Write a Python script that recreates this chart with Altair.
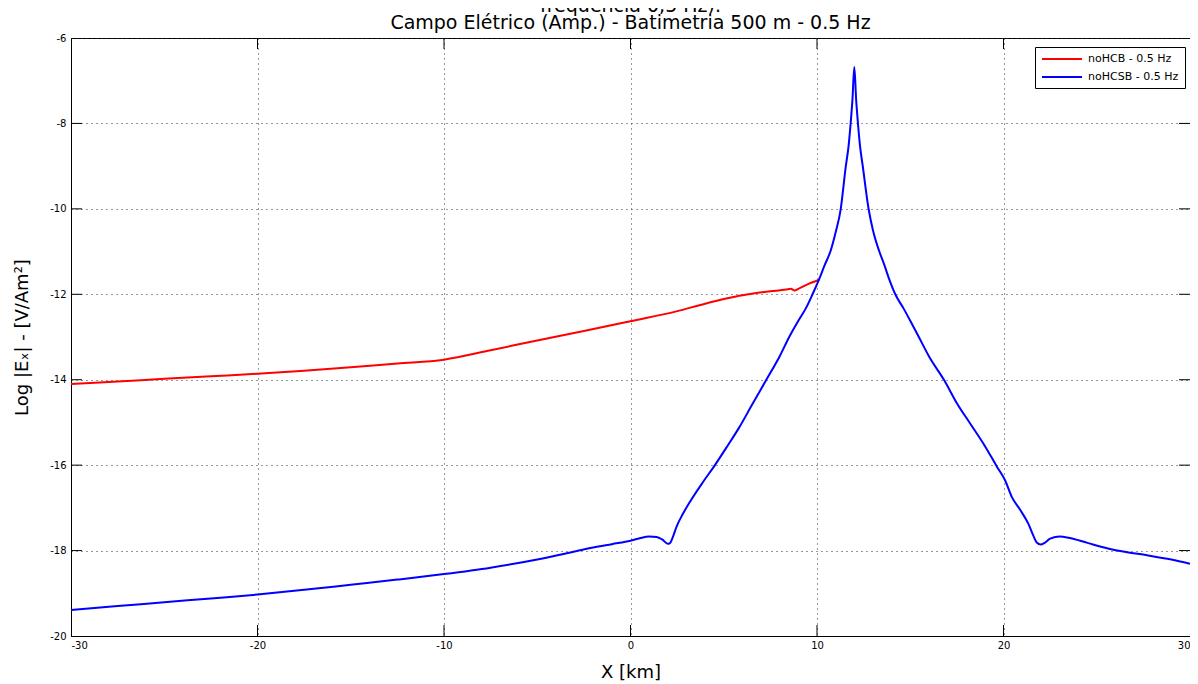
import altair as alt
import pandas as pd

# ---- data ----
series_names = ["noHCB - 0.5 Hz", "noHCSB - 0.5 Hz"]
series_colors = ["#ff0000", "#0000ff"]

red_x = [-30, -27.5, -25, -22.5, -20, -17.5, -15, -12.5, -10, -7.5, -5, -2.5, 0,
         2.46, 4, 5.66, 6.5, 7.5, 8.33, 8.6, 8.8, 9.1, 9.58, 10.12]
red_y = [-14.10, -14.04, -13.98, -13.92, -13.86, -13.79, -13.71, -13.62, -13.53,
         -13.31, -13.08, -12.86, -12.63, -12.40, -12.22, -12.05, -11.99, -11.93,
         -11.89, -11.87, -11.91, -11.85, -11.75, -11.66]

blue_x = [-30, -27.5, -25, -22.5, -20, -17.5, -15, -12.5, -10, -7.5, -5, -3, -2, -1,
          0, 0.5, 1.0, 1.4, 1.7, 2.0, 2.1, 2.3, 2.46, 2.81, 3.2, 3.88, 4.51, 5.2,
          5.84, 6.5, 7.26, 8.0, 8.51, 9.0, 9.4, 9.76, 10.1, 10.4, 10.74, 11.0,
          11.27, 11.54, 11.7, 11.8, 11.9, 12.0, 12.1, 12.2, 12.3, 12.46, 12.77,
          13.0, 13.32, 13.6, 13.85, 14.21, 14.64, 15.0, 15.46, 16.0, 16.83, 17.5,
          18.22, 19.0, 19.64, 20.09, 20.45, 20.9, 21.33, 21.6, 21.78, 22.0, 22.2,
          22.5, 23.03, 23.5, 24.5, 25.6, 26.5, 27.7, 29.0, 30.0]
blue_y = [-19.39, -19.30, -19.21, -19.12, -19.03, -18.92, -18.80, -18.68, -18.55,
          -18.40, -18.21, -18.02, -17.93, -17.85, -17.77, -17.71, -17.67, -17.68,
          -17.74, -17.84, -17.83, -17.65, -17.45, -17.14, -16.85, -16.40, -16.01,
          -15.55, -15.11, -14.60, -14.02, -13.45, -13.00, -12.62, -12.33, -12.00,
          -11.66, -11.33, -10.97, -10.55, -10.01, -9.02, -8.50, -8.02, -7.45, -6.68,
          -7.45, -8.02, -8.50, -9.02, -10.01, -10.50, -10.97, -11.30, -11.62, -12.01,
          -12.33, -12.62, -13.00, -13.45, -14.02, -14.55, -15.03, -15.55, -16.03,
          -16.36, -16.75, -17.05, -17.37, -17.65, -17.81, -17.86, -17.82, -17.72,
          -17.67, -17.70, -17.82, -17.95, -18.03, -18.11, -18.21, -18.31]

x_ticks = [-30, -20, -10, 0, 10, 20, 30]
y_ticks = [-20, -18, -16, -14, -12, -10, -8, -6]
x_inner_ticks = [-20, -10, 0, 10, 20]
y_inner_ticks = [-18, -16, -14, -12, -10, -8]

title_lines = ["frequência 0,5 Hz).",
               "Campo Elétrico (Amp.) - Batimetria 500 m - 0.5 Hz"]

# ---- tables ----
df = pd.concat([
    pd.DataFrame({"x": red_x, "y": red_y, "series": series_names[0]}),
    pd.DataFrame({"x": blue_x, "y": blue_y, "series": series_names[1]}),
], ignore_index=True)
df["order"] = range(len(df))

xt = pd.DataFrame({"x": x_inner_ticks})
yt = pd.DataFrame({"y": y_inner_ticks})

W, H = 1119, 598
TICK = 11
FONT = "DejaVu Sans"

xscale = alt.Scale(domain=[-30, 30], nice=False, zero=False)
yscale = alt.Scale(domain=[-20, -6], nice=False, zero=False)

lines = alt.Chart(df).mark_line(strokeWidth=2, clip=True, interpolate="monotone").encode(
    x=alt.X("x:Q", scale=xscale,
            axis=alt.Axis(values=x_ticks, title="X [km]",
                          labelExpr="datum.value + ''")),
    y=alt.Y("y:Q", scale=yscale,
            axis=alt.Axis(values=y_ticks, title="Log |Eₓ| - [V/Am²]",
                          labelExpr="datum.value + ''")),
    color=alt.Color("series:N",
                    scale=alt.Scale(domain=series_names, range=series_colors),
                    legend=alt.Legend(title=None, orient="none",
                                      legendX=964, legendY=9,
                                      symbolType="M-1,0H7", symbolSize=100,
                                      symbolStrokeWidth=2,
                                      labelFontSize=11, labelFont=FONT,
                                      labelColor="black",
                                      strokeColor="black", fillColor="white",
                                      padding=6, rowPadding=7, labelOffset=35)),
    order="order:Q",
)

tick_style = dict(color="#000000", strokeWidth=1)
xb = alt.Chart(xt).mark_rule(**tick_style).encode(
    x=alt.X("x:Q", scale=xscale), y=alt.value(H), y2=alt.value(H - TICK))
xtp = alt.Chart(xt).mark_rule(**tick_style).encode(
    x=alt.X("x:Q", scale=xscale), y=alt.value(0), y2=alt.value(TICK))
yl = alt.Chart(yt).mark_rule(**tick_style).encode(
    y=alt.Y("y:Q", scale=yscale), x=alt.value(0), x2=alt.value(TICK))
yr = alt.Chart(yt).mark_rule(**tick_style).encode(
    y=alt.Y("y:Q", scale=yscale), x=alt.value(W), x2=alt.value(W - TICK))

chart = alt.layer(xb, xtp, yl, yr, lines).properties(
    width=W, height=H,
    background="white",
    title=alt.TitleParams(text=title_lines, fontSize=19, font=FONT,
                          fontWeight="normal", color="black", anchor="middle",
                          lineHeight=17, offset=0),
    autosize=alt.AutoSizeParams(type="none"),
    padding={"left": 63, "top": 30, "right": 0, "bottom": 48},
).configure_view(
    stroke="black", strokeWidth=1
).configure_axis(
    grid=True, gridColor="#333333", gridDash=[1, 4], gridWidth=1,
    domain=True, domainColor="black", domainWidth=1,
    ticks=False,
    labelFont=FONT, labelFontSize=10, labelColor="black",
    titleFont=FONT, titleFontSize=18, titleFontWeight="normal", titleColor="black",
).configure_axisX(
    labelPadding=4, titlePadding=13,
).configure_axisY(
    labelPadding=5, titlePadding=18,
)

chart.save("out.html", embed_options={"renderer": "svg", "actions": False})
